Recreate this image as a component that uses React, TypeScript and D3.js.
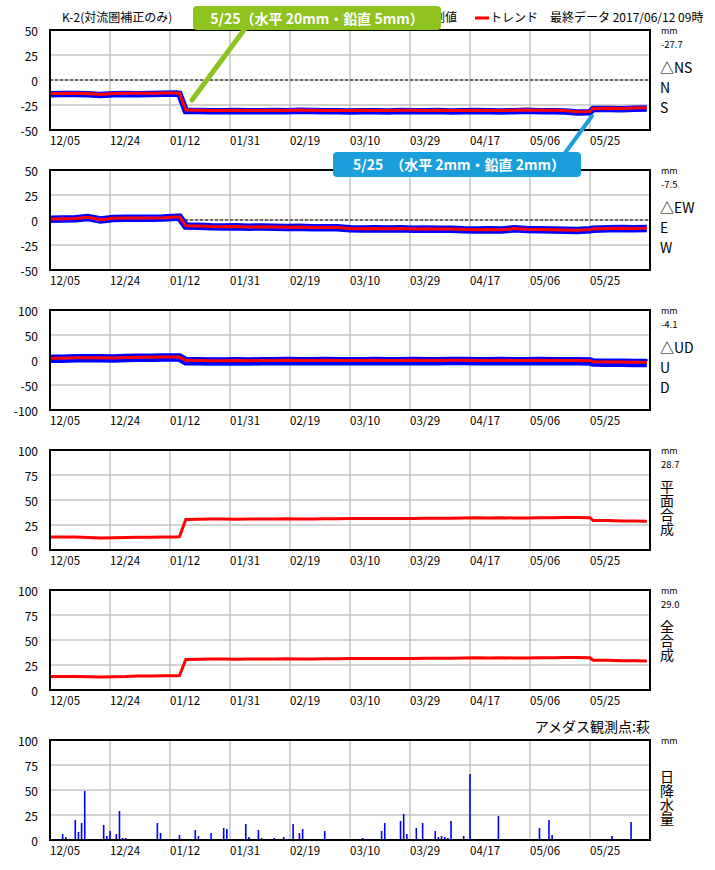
import { useEffect, useRef } from 'react';
import * as d3 from 'd3';

// sample dates for the displacement series (2016/12 - 2017/06)
const sampleDates = [
  '12/05', '12/09', '12/13', '12/17', '12/21', '12/25', '12/29', '01/02', '01/06', '01/10',
  '01/14', '01/15', '01/17', '01/21', '01/25', '01/29', '02/02', '02/06', '02/10', '02/14',
  '02/18', '02/22', '02/26', '03/02', '03/06', '03/10', '03/14', '03/18', '03/22', '03/26',
  '03/30', '04/03', '04/07', '04/11', '04/15', '04/19', '04/23', '04/27', '05/01', '05/05',
  '05/09', '05/13', '05/17', '05/21', '05/25', '05/26', '05/31', '06/04', '06/08', '06/12',
];

const nsMeasured = [
  -14.2, -14.0, -14.0, -14.3, -15.0, -14.3, -14.0, -14.2, -14.0, -13.8,
  -13.5, -14.0, -31.0, -31.0, -31.3, -31.2, -31.0, -31.3, -31.2, -31.0,
  -31.3, -30.8, -31.0, -31.3, -31.2, -31.5, -31.2, -31.3, -31.5, -31.0,
  -31.2, -31.3, -31.0, -31.5, -31.3, -31.0, -31.3, -31.5, -31.2, -30.8,
  -31.2, -31.3, -31.5, -32.5, -32.3, -29.0, -29.0, -29.2, -28.8, -28.5,
];
const nsTrend = [
  -13.5, -13.5, -13.3, -13.5, -14.5, -13.5, -13.3, -13.3, -13.3, -13.0,
  -13.0, -13.5, -30.0, -30.3, -30.5, -30.5, -30.3, -30.5, -30.5, -30.3,
  -30.5, -30.0, -30.3, -30.5, -30.5, -30.5, -30.3, -30.5, -30.5, -30.3,
  -30.3, -30.5, -30.3, -30.5, -30.5, -30.3, -30.5, -30.5, -30.3, -30.0,
  -30.3, -30.3, -30.5, -31.8, -31.5, -28.5, -28.3, -28.5, -28.0, -27.7,
];

const ewMeasured = [
  0.8, 1.0, 1.3, 2.5, 0.0, 1.5, 1.8, 1.8, 1.7, 2.0,
  2.8, 2.8, -6.0, -6.3, -6.8, -7.0, -6.8, -7.2, -7.0, -7.3,
  -7.5, -7.3, -7.8, -7.8, -7.8, -8.8, -9.0, -8.8, -9.0, -8.8,
  -9.3, -9.0, -9.3, -9.3, -9.8, -10.0, -9.8, -10.0, -8.8, -9.5,
  -9.8, -10.0, -10.3, -10.5, -9.8, -9.3, -8.8, -8.5, -8.8, -8.5,
];
const ewTrend = [
  1.0, 1.2, 1.5, 2.7, 0.3, 1.8, 2.0, 2.0, 2.0, 2.3,
  3.0, 3.0, -5.7, -6.0, -6.5, -6.7, -6.5, -7.0, -6.8, -7.0,
  -7.2, -7.0, -7.5, -7.5, -7.5, -8.5, -8.8, -8.5, -8.8, -8.5,
  -9.0, -8.8, -9.0, -9.0, -9.5, -9.8, -9.5, -9.8, -8.5, -9.3,
  -9.5, -9.8, -10.0, -10.3, -9.5, -9.0, -8.5, -8.3, -8.5, -8.3,
];

const udMeasured = [
  2.5, 2.5, 3.5, 3.5, 3.5, 3.0, 4.0, 4.5, 4.5, 5.0,
  5.0, 5.0, -2.5, -2.5, -3.0, -3.0, -2.5, -3.0, -2.5, -2.5,
  -2.0, -2.5, -2.5, -2.0, -2.5, -2.5, -2.5, -2.0, -2.5, -2.5,
  -2.0, -2.5, -2.5, -2.0, -2.0, -2.5, -2.5, -2.0, -2.5, -2.5,
  -2.0, -2.5, -2.5, -2.5, -3.0, -5.0, -5.5, -5.5, -6.0, -5.8,
];
const udTrend = [
  3.5, 3.5, 4.5, 4.5, 4.5, 4.0, 5.0, 5.5, 5.5, 6.0,
  6.0, 6.0, -1.0, -1.0, -1.5, -1.5, -1.0, -1.5, -1.0, -1.0,
  -0.5, -1.0, -1.0, -0.5, -1.0, -1.0, -1.0, -0.5, -1.0, -1.0,
  -0.5, -1.0, -1.0, -0.5, -0.5, -1.0, -1.0, -0.5, -1.0, -1.0,
  -0.5, -1.0, -1.0, -1.0, -1.5, -3.5, -4.0, -4.0, -4.5, -4.3,
];

const horizTrend = [
  13.0, 13.0, 13.0, 12.5, 12.0, 12.3, 12.5, 12.8, 12.8, 13.0,
  13.0, 13.3, 30.5, 30.8, 31.0, 31.0, 30.8, 31.0, 31.0, 31.0,
  31.2, 31.0, 31.0, 31.3, 31.3, 31.5, 31.5, 31.5, 31.5, 31.5,
  31.5, 31.8, 31.8, 31.8, 32.0, 32.3, 32.0, 32.3, 32.0, 32.0,
  32.3, 32.3, 32.5, 32.5, 32.3, 29.5, 29.5, 29.0, 29.0, 28.7,
];
const totalTrend = [
  13.5, 13.5, 13.5, 13.3, 13.0, 13.3, 13.5, 14.0, 14.0, 14.3,
  14.3, 14.5, 30.5, 30.8, 31.0, 31.0, 30.8, 31.0, 31.0, 31.0,
  31.2, 31.0, 31.0, 31.3, 31.3, 31.5, 31.5, 31.5, 31.5, 31.5,
  31.5, 31.8, 31.8, 31.8, 32.0, 32.3, 32.0, 32.3, 32.0, 32.0,
  32.3, 32.3, 32.5, 32.5, 32.3, 29.8, 29.8, 29.3, 29.3, 29.0,
];

// daily precipitation (AMeDAS Hagi)
const rainDates = [
  '12/07', '12/09', '12/10', '12/13', '12/14', '12/15', '12/16', '12/20', '12/22', '12/23',
  '12/24', '12/26', '12/27', '12/28', '12/29', '01/08', '01/09', '01/15', '01/16', '01/20',
  '01/21', '01/22', '01/25', '01/29', '01/30', '02/05', '02/06', '02/08', '02/09', '02/10',
  '02/11', '02/14', '02/17', '02/20', '02/22', '02/23', '03/02', '03/08', '03/14', '03/15',
  '03/20', '03/21', '03/26', '03/27', '03/28', '03/31', '04/02', '04/06', '04/07', '04/08',
  '04/09', '04/10', '04/11', '04/15', '04/17', '04/18', '04/25', '04/26', '05/09', '05/12',
  '05/13', '05/24', '06/01', '06/07',
];
const rainValues = [
  1, 6, 3, 20, 8, 17, 49, 1, 15, 4,
  9, 6, 29, 2, 2, 17, 7, 5, 1, 10,
  4, 1, 7, 12, 11, 16, 3, 1, 10, 2,
  1, 2, 3, 16, 7, 11, 9, 1, 2, 1,
  9, 17, 19, 26, 6, 12, 17, 9, 3, 4,
  3, 2, 19, 4, 66, 1, 1, 24, 12, 20,
  5, 1, 4, 18,
];

const xDomain = ['12/05', '06/13'];
const dateTicks = ['12/05', '12/24', '01/12', '01/31', '02/19', '03/10', '03/29', '04/17', '05/06', '05/25'];
const dispTicks = [50, 25, 0, -25, -50];
const udTicks = [100, 50, 0, -50, -100];
const posTicks = [100, 75, 50, 25, 0];

const FONT = "'Noto Sans CJK JP', sans-serif";
const BLUE = '#0000ff';
const RED = '#ff0000';

const parseMD = (s: string) => {
  const [m, d] = s.split('/').map(Number);
  return new Date(m === 12 ? 2016 : 2017, m - 1, d);
};

interface Panel {
  top: number;
  ticks: number[];
  measured?: number[];
  trend: number[];
  bandWidth?: number;
  zeroLine: boolean;
  lastValue: string;
  labels: string[];
  vertical: boolean;
}

const App = () => {
  const svgRef = useRef<SVGSVGElement>(null);

  useEffect(() => {
    if (!svgRef.current) return;
    const svg = d3.select(svgRef.current);
    svg.selectAll('*').remove();

    const left = 50;
    const right = 650;
    const ph = 100;

    const x = d3.scaleTime()
      .domain(xDomain.map(parseMD))
      .range([left, right]);

    const panels: Panel[] = [
      { top: 30, ticks: dispTicks, measured: nsMeasured, trend: nsTrend, bandWidth: 6.5, zeroLine: true, lastValue: '-27.7', labels: ['△NS', 'N', 'S'], vertical: false },
      { top: 170, ticks: dispTicks, measured: ewMeasured, trend: ewTrend, bandWidth: 7.5, zeroLine: true, lastValue: '-7.5', labels: ['△EW', 'E', 'W'], vertical: false },
      { top: 310, ticks: udTicks, measured: udMeasured, trend: udTrend, bandWidth: 8.5, zeroLine: true, lastValue: '-4.1', labels: ['△UD', 'U', 'D'], vertical: false },
      { top: 450, ticks: posTicks, trend: horizTrend, zeroLine: false, lastValue: '28.7', labels: ['平面合成'], vertical: true },
      { top: 590, ticks: posTicks, trend: totalTrend, zeroLine: false, lastValue: '29.0', labels: ['全合成'], vertical: true },
    ];

    const drawFrame = (top: number, ticks: number[], y: d3.ScaleLinear<number, number>) => {
      const g = svg.append('g');
      // grid
      g.selectAll('line.h')
        .data(ticks)
        .join('line')
        .attr('x1', left).attr('x2', right)
        .attr('y1', d => y(d)).attr('y2', d => y(d))
        .attr('stroke', '#c3c3c3').attr('stroke-width', 1.5);
      g.selectAll('line.v')
        .data(dateTicks.slice(1))
        .join('line')
        .attr('x1', d => x(parseMD(d))).attr('x2', d => x(parseMD(d)))
        .attr('y1', top).attr('y2', top + ph)
        .attr('stroke', '#c3c3c3').attr('stroke-width', 1.5);
      // y tick labels
      g.selectAll('text.yt')
        .data(ticks)
        .join('text')
        .attr('x', 38)
        .attr('y', d => y(d))
        .attr('text-anchor', 'end')
        .attr('dominant-baseline', 'central')
        .attr('font-family', FONT)
        .attr('font-size', 12)
        .attr('fill', '#000')
        .text(d => d);
      // x tick labels
      g.selectAll('text.xt')
        .data(dateTicks)
        .join('text')
        .attr('x', d => x(parseMD(d)))
        .attr('y', top + ph + 15)
        .attr('font-family', FONT)
        .attr('font-size', 11.5)
        .attr('fill', '#000')
        .text(d => d);
      return g;
    };

    const border = (top: number) => {
      svg.append('rect')
        .attr('x', left).attr('y', top)
        .attr('width', right - left).attr('height', ph)
        .attr('fill', 'none')
        .attr('stroke', '#000')
        .attr('stroke-width', 2);
    };

    // vertical japanese label, written top to bottom as a single text
    const verticalLabel = (label: string, top: number) => {
      svg.append('text')
        .attr('x', 667)
        .attr('y', top + 30)
        .style('writing-mode', 'vertical-rl')
        .attr('font-family', FONT).attr('font-size', 14)
        .text(label);
    };

    const unitLabels = (top: number, value?: string) => {
      svg.append('text')
        .attr('x', 661).attr('y', top + 4)
        .attr('font-family', FONT).attr('font-size', 9)
        .text('mm');
      if (value) {
        svg.append('text')
          .attr('x', 661).attr('y', top + 18)
          .attr('font-family', FONT).attr('font-size', 9.5)
          .text(value);
      }
    };

    panels.forEach(p => {
      const y = d3.scaleLinear()
        .domain([p.ticks[p.ticks.length - 1], p.ticks[0]])
        .range([p.top + ph, p.top]);
      drawFrame(p.top, p.ticks, y);

      if (p.zeroLine) {
        svg.append('line')
          .attr('x1', left).attr('x2', right)
          .attr('y1', y(0)).attr('y2', y(0))
          .attr('stroke', '#000')
          .attr('stroke-width', 1)
          .attr('stroke-dasharray', '3,2');
      }

      const line = d3.line<number>()
        .x((_, i) => x(parseMD(sampleDates[i])))
        .y(d => y(d));

      if (p.measured) {
        svg.append('path')
          .attr('d', line(p.measured))
          .attr('fill', 'none')
          .attr('stroke', BLUE)
          .attr('stroke-width', p.bandWidth ?? 7);
      }
      svg.append('path')
        .attr('d', line(p.trend))
        .attr('fill', 'none')
        .attr('stroke', RED)
        .attr('stroke-width', 3);

      border(p.top);

      // right-side labels
      unitLabels(p.top, p.lastValue);
      if (p.vertical) {
        verticalLabel(p.labels[0], p.top);
      } else {
        svg.selectAll(null)
          .data(p.labels)
          .join('text')
          .attr('x', 660)
          .attr('y', (_, i) => p.top + 43 + i * 20)
          .attr('font-family', FONT).attr('font-size', 14)
          .text(d => d);
      }
    });

    // precipitation panel
    const rTop = 740;
    const yr = d3.scaleLinear().domain([0, 100]).range([rTop + ph, rTop]);
    drawFrame(rTop, posTicks, yr);
    svg.append('g')
      .selectAll('rect')
      .data(rainValues)
      .join('rect')
      .attr('x', (_, i) => x(parseMD(rainDates[i])) - 0.8)
      .attr('y', d => yr(d))
      .attr('width', 1.6)
      .attr('height', d => yr(0) - yr(d))
      .attr('fill', BLUE);
    border(rTop);
    svg.append('text')
      .attr('x', 650).attr('y', 732)
      .attr('text-anchor', 'end')
      .attr('font-family', FONT).attr('font-size', 14)
      .text('アメダス観測点:萩');
    unitLabels(rTop);
    verticalLabel('日降水量', rTop);

    // header
    svg.append('text')
      .attr('x', 62).attr('y', 22)
      .attr('font-family', FONT).attr('font-size', 12)
      .text('K-2(対流圏補正のみ)');
    svg.append('line')
      .attr('x1', 406).attr('x2', 420).attr('y1', 18).attr('y2', 18)
      .attr('stroke', BLUE).attr('stroke-width', 3);
    svg.append('text')
      .attr('x', 421).attr('y', 22)
      .attr('font-family', FONT).attr('font-size', 12)
      .text('計測値');
    svg.append('line')
      .attr('x1', 475).attr('x2', 489).attr('y1', 18).attr('y2', 18)
      .attr('stroke', RED).attr('stroke-width', 3);
    svg.append('text')
      .attr('x', 490).attr('y', 22)
      .attr('font-family', FONT).attr('font-size', 12)
      .text('トレンド');
    svg.append('text')
      .attr('x', 550).attr('y', 22)
      .attr('font-family', FONT).attr('font-size', 12)
      .text('最終データ 2017/06/12 09時');

    // callouts
    const green = '#8dc21f';
    const cyan = '#1a9fdb';
    svg.append('line')
      .attr('x1', 244).attr('y1', 30).attr('x2', 192).attr('y2', 100)
      .attr('stroke', green).attr('stroke-width', 5).attr('stroke-linecap', 'round');
    svg.append('rect')
      .attr('x', 193).attr('y', 6).attr('width', 248).attr('height', 24).attr('rx', 4)
      .attr('fill', green);
    svg.append('text')
      .attr('x', 317).attr('y', 24)
      .attr('text-anchor', 'middle')
      .attr('font-family', FONT).attr('font-size', 14).attr('font-weight', 'bold')
      .attr('fill', '#fff')
      .text('5/25（水平 20mm・鉛直 5mm）');

    svg.append('line')
      .attr('x1', 592).attr('y1', 116).attr('x2', 565).attr('y2', 153)
      .attr('stroke', cyan).attr('stroke-width', 4).attr('stroke-linecap', 'round');
    svg.append('rect')
      .attr('x', 333).attr('y', 152).attr('width', 248).attr('height', 25).attr('rx', 4)
      .attr('fill', cyan);
    svg.append('text')
      .attr('x', 459).attr('y', 170)
      .attr('text-anchor', 'middle')
      .attr('font-family', FONT).attr('font-size', 14).attr('font-weight', 'bold')
      .attr('fill', '#fff')
      .text('5/25　（水平 2mm・鉛直 2mm）');
  }, []);

  return (
    <svg
      ref={svgRef}
      width={715}
      height={870}
      style={{ position: 'absolute', left: 0, top: 0, background: '#fff' }}
    />
  );
};

export default App;
